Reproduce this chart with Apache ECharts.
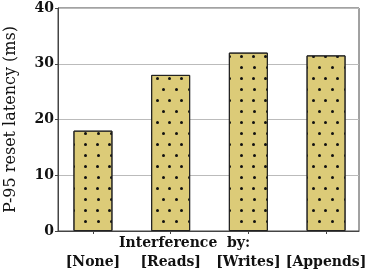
<!DOCTYPE html>
<html><head><meta charset="utf-8">
<script src="https://cdn.jsdelivr.net/npm/echarts@6/dist/echarts.min.js"></script>
<style>html,body{margin:0;padding:0;background:#fff}#c{width:373px;height:280px}</style>
</head><body><div id="c"></div>
<script>
const categories = ['[None]', '[Reads]', '[Writes]', '[Appends]'];
const latencyP95 = [18, 28, 32, 31.5];
const yTicks = [0, 10, 20, 30, 40];
const xTitle = 'Interference  by:';
const yTitle = 'P-95 reset latency (ms)';

const FONT = 'DejaVu Serif';
const chart = echarts.init(document.getElementById('c'), null, {renderer: 'canvas'});
const positions = categories.map((c, i) => i);
chart.setOption({
  animation: false,
  aria: {enabled: true, decal: {show: true}},
  grid: {left: 58, right: 14, top: 8, bottom: 49, show: true, borderColor: '#444', borderWidth: 1,
         outerBoundsMode: 'none', containLabel: false},
  graphic: [{
    type: 'text', left: 119, top: 236,
    style: {text: xTitle, font: 'bold 14px "DejaVu Serif"', fill: '#111'}
  }],
  xAxis: {
    type: 'value', min: -0.45, max: 3.424,
    axisLine: {show: true, onZero: false, lineStyle: {color: '#444', width: 1}},
    axisTick: {show: true, customValues: positions, length: 3, lineStyle: {color: '#444'}},
    axisLabel: {show: true, customValues: positions, margin: 24,
      formatter: v => categories[Math.round(v)],
      fontFamily: FONT, fontWeight: 'bold', fontSize: 14, color: '#111'},
    splitLine: {show: false}
  },
  yAxis: {
    type: 'value', min: yTicks[0], max: yTicks[yTicks.length - 1], interval: 10,
    name: yTitle, nameLocation: 'middle', nameGap: 39, nameRotate: 90,
    nameTextStyle: {fontFamily: FONT, fontWeight: 'normal', fontSize: 16, color: '#111'},
    axisLine: {show: true, onZero: false, lineStyle: {color: '#444', width: 1}},
    axisTick: {show: true, length: 3, lineStyle: {color: '#444'}},
    axisLabel: {margin: 4, fontFamily: FONT, fontWeight: 'bold', fontSize: 14, color: '#111'},
    splitLine: {show: true, lineStyle: {color: '#bbb', width: 1}}
  },
  series: [{
    type: 'bar',
    data: positions.map((p, i) => [p, latencyP95[i]]),
    barWidth: 39,
    itemStyle: {
      color: '#dccb78', borderColor: '#222', borderWidth: 1,
      decal: {
        symbol: 'circle', symbolSize: 1, color: '#111',
        dashArrayX: [[2.2, 8.5], [0, 5.35, 2.2, 3.15]],
        dashArrayY: [2.2, 7.8],
        rotation: 0
      }
    }
  }]
});
</script></body></html>
